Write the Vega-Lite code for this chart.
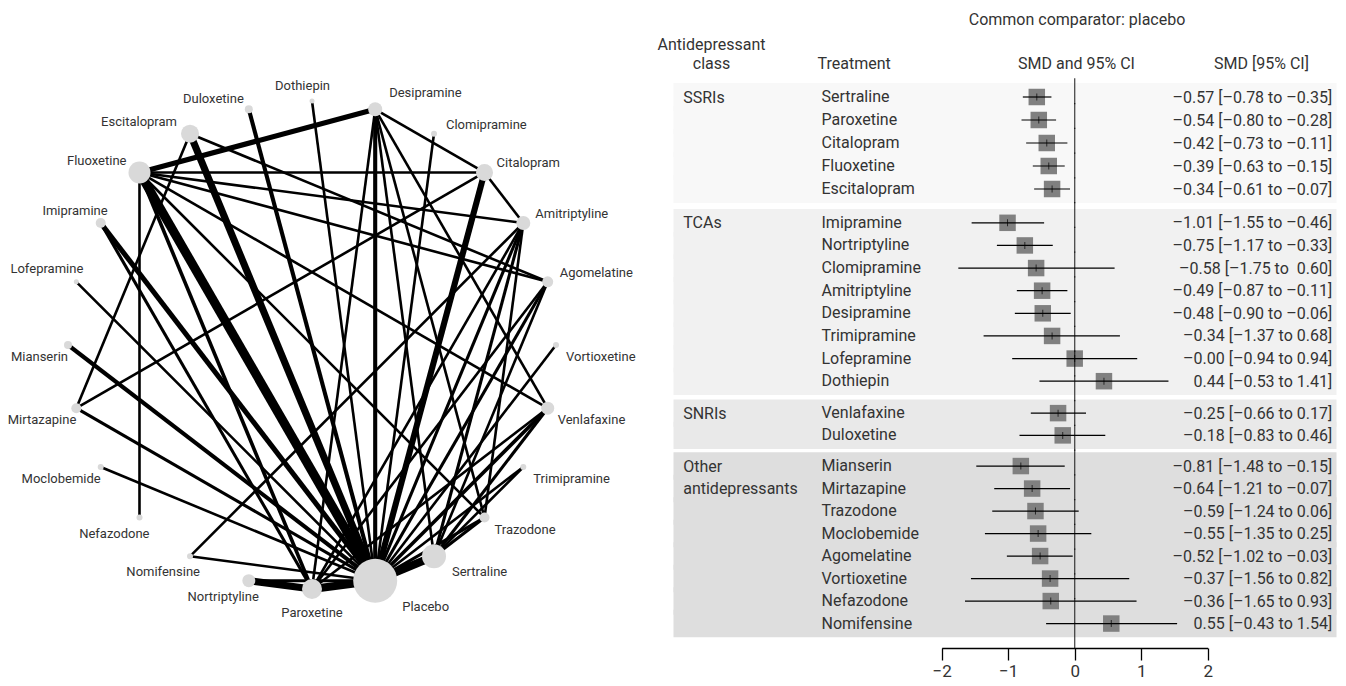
{
  "$schema": "https://vega.github.io/schema/vega-lite/v6.json",
  "padding": 0,
  "background": "white",
  "bounds": "flush",
  "spacing": 36,
  "config": {
    "font": "Roboto",
    "view": {"stroke": null},
    "axis": {"grid": false},
    "axisY": {"ticks": false, "domain": false, "grid": false, "labelFont": "Roboto", "labelFontSize": 16, "labelColor": "#333333", "labelBaseline": "middle", "labelOverlap": false, "labelBound": false, "labelLimit": 400, "titleFont": "Roboto", "titleFontSize": 16, "titleFontWeight": "normal", "titleColor": "#333333", "titleAngle": 0, "titleBaseline": "middle", "titlePadding": 0}
  },
  "datasets": {
    "nodes": [
      {"name": "Dothiepin", "x": 0, "y": 1, "n": 125},
      {"name": "Desipramine", "x": 0.259, "y": 0.966, "n": 980},
      {"name": "Clomipramine", "x": 0.5, "y": 0.866, "n": 180},
      {"name": "Citalopram", "x": 0.707, "y": 0.707, "n": 1445},
      {"name": "Amitriptyline", "x": 0.866, "y": 0.5, "n": 980},
      {"name": "Agomelatine", "x": 0.966, "y": 0.259, "n": 605},
      {"name": "Vortioxetine", "x": 1, "y": 0, "n": 180},
      {"name": "Venlafaxine", "x": 0.966, "y": -0.259, "n": 845},
      {"name": "Trimipramine", "x": 0.866, "y": -0.5, "n": 180},
      {"name": "Trazodone", "x": 0.707, "y": -0.707, "n": 500},
      {"name": "Sertraline", "x": 0.5, "y": -0.866, "n": 2880},
      {"name": "Placebo", "x": 0.259, "y": -0.966, "n": 9680},
      {"name": "Paroxetine", "x": 0, "y": -1, "n": 2000},
      {"name": "Nortriptyline", "x": -0.259, "y": -0.966, "n": 845},
      {"name": "Nomifensine", "x": -0.5, "y": -0.866, "n": 180},
      {"name": "Nefazodone", "x": -0.707, "y": -0.707, "n": 180},
      {"name": "Moclobemide", "x": -0.866, "y": -0.5, "n": 180},
      {"name": "Mirtazapine", "x": -0.966, "y": -0.259, "n": 500},
      {"name": "Mianserin", "x": -1, "y": 0, "n": 320},
      {"name": "Lofepramine", "x": -0.966, "y": 0.259, "n": 125},
      {"name": "Imipramine", "x": -0.866, "y": 0.5, "n": 500},
      {"name": "Fluoxetine", "x": -0.707, "y": 0.707, "n": 2420},
      {"name": "Escitalopram", "x": -0.5, "y": 0.866, "n": 1620},
      {"name": "Duloxetine", "x": -0.259, "y": 0.966, "n": 320}
    ],
    "edges": [
      {"a": "Placebo", "b": "Fluoxetine", "trials": 14},
      {"a": "Placebo", "b": "Escitalopram", "trials": 10},
      {"a": "Placebo", "b": "Citalopram", "trials": 8},
      {"a": "Placebo", "b": "Paroxetine", "trials": 12},
      {"a": "Placebo", "b": "Sertraline", "trials": 12},
      {"a": "Placebo", "b": "Duloxetine", "trials": 4},
      {"a": "Placebo", "b": "Desipramine", "trials": 4},
      {"a": "Placebo", "b": "Dothiepin", "trials": 1},
      {"a": "Placebo", "b": "Clomipramine", "trials": 1},
      {"a": "Placebo", "b": "Amitriptyline", "trials": 2},
      {"a": "Placebo", "b": "Agomelatine", "trials": 2},
      {"a": "Placebo", "b": "Vortioxetine", "trials": 1},
      {"a": "Placebo", "b": "Venlafaxine", "trials": 3},
      {"a": "Placebo", "b": "Trimipramine", "trials": 1},
      {"a": "Placebo", "b": "Trazodone", "trials": 2},
      {"a": "Placebo", "b": "Nortriptyline", "trials": 2},
      {"a": "Placebo", "b": "Mirtazapine", "trials": 2},
      {"a": "Placebo", "b": "Mianserin", "trials": 4},
      {"a": "Placebo", "b": "Imipramine", "trials": 6},
      {"a": "Placebo", "b": "Lofepramine", "trials": 1},
      {"a": "Placebo", "b": "Moclobemide", "trials": 1},
      {"a": "Placebo", "b": "Nomifensine", "trials": 1},
      {"a": "Paroxetine", "b": "Nortriptyline", "trials": 10},
      {"a": "Paroxetine", "b": "Imipramine", "trials": 2},
      {"a": "Paroxetine", "b": "Fluoxetine", "trials": 3},
      {"a": "Paroxetine", "b": "Desipramine", "trials": 1},
      {"a": "Paroxetine", "b": "Amitriptyline", "trials": 1},
      {"a": "Paroxetine", "b": "Agomelatine", "trials": 1},
      {"a": "Paroxetine", "b": "Venlafaxine", "trials": 1},
      {"a": "Fluoxetine", "b": "Desipramine", "trials": 6},
      {"a": "Fluoxetine", "b": "Citalopram", "trials": 1},
      {"a": "Fluoxetine", "b": "Amitriptyline", "trials": 1},
      {"a": "Fluoxetine", "b": "Agomelatine", "trials": 1},
      {"a": "Fluoxetine", "b": "Venlafaxine", "trials": 1},
      {"a": "Fluoxetine", "b": "Trazodone", "trials": 1},
      {"a": "Fluoxetine", "b": "Nefazodone", "trials": 1},
      {"a": "Escitalopram", "b": "Agomelatine", "trials": 1},
      {"a": "Escitalopram", "b": "Mirtazapine", "trials": 1},
      {"a": "Desipramine", "b": "Citalopram", "trials": 1},
      {"a": "Desipramine", "b": "Sertraline", "trials": 1},
      {"a": "Desipramine", "b": "Trazodone", "trials": 1},
      {"a": "Desipramine", "b": "Venlafaxine", "trials": 1},
      {"a": "Citalopram", "b": "Amitriptyline", "trials": 1},
      {"a": "Citalopram", "b": "Mirtazapine", "trials": 1},
      {"a": "Amitriptyline", "b": "Sertraline", "trials": 2},
      {"a": "Amitriptyline", "b": "Trazodone", "trials": 1},
      {"a": "Amitriptyline", "b": "Nomifensine", "trials": 1},
      {"a": "Agomelatine", "b": "Sertraline", "trials": 1},
      {"a": "Sertraline", "b": "Trazodone", "trials": 2},
      {"a": "Sertraline", "b": "Venlafaxine", "trials": 2},
      {"a": "Sertraline", "b": "Trimipramine", "trials": 1}
    ],
    "forest": [
      {"class": "SSRIs", "treatment": "Sertraline", "smd": -0.57, "lo": -0.78, "hi": -0.35, "ci": "–0.57 [–0.78 to –0.35]"},
      {"class": "SSRIs", "treatment": "Paroxetine", "smd": -0.54, "lo": -0.80, "hi": -0.28, "ci": "–0.54 [–0.80 to –0.28]"},
      {"class": "SSRIs", "treatment": "Citalopram", "smd": -0.42, "lo": -0.73, "hi": -0.11, "ci": "–0.42 [–0.73 to –0.11]"},
      {"class": "SSRIs", "treatment": "Fluoxetine", "smd": -0.39, "lo": -0.63, "hi": -0.15, "ci": "–0.39 [–0.63 to –0.15]"},
      {"class": "SSRIs", "treatment": "Escitalopram", "smd": -0.34, "lo": -0.61, "hi": -0.07, "ci": "–0.34 [–0.61 to –0.07]"},
      {"class": "TCAs", "treatment": "Imipramine", "smd": -1.01, "lo": -1.55, "hi": -0.46, "ci": "–1.01 [–1.55 to –0.46]"},
      {"class": "TCAs", "treatment": "Nortriptyline", "smd": -0.75, "lo": -1.17, "hi": -0.33, "ci": "–0.75 [–1.17 to –0.33]"},
      {"class": "TCAs", "treatment": "Clomipramine", "smd": -0.58, "lo": -1.75, "hi": 0.60, "ci": "–0.58 [–1.75 to \u00a00.60]"},
      {"class": "TCAs", "treatment": "Amitriptyline", "smd": -0.49, "lo": -0.87, "hi": -0.11, "ci": "–0.49 [–0.87 to –0.11]"},
      {"class": "TCAs", "treatment": "Desipramine", "smd": -0.48, "lo": -0.90, "hi": -0.06, "ci": "–0.48 [–0.90 to –0.06]"},
      {"class": "TCAs", "treatment": "Trimipramine", "smd": -0.34, "lo": -1.37, "hi": 0.68, "ci": "–0.34 [–1.37 to 0.68]"},
      {"class": "TCAs", "treatment": "Lofepramine", "smd": 0.0, "lo": -0.94, "hi": 0.94, "ci": "–0.00 [–0.94 to 0.94]"},
      {"class": "TCAs", "treatment": "Dothiepin", "smd": 0.44, "lo": -0.53, "hi": 1.41, "ci": "0.44 [–0.53 to 1.41]"},
      {"class": "SNRIs", "treatment": "Venlafaxine", "smd": -0.25, "lo": -0.66, "hi": 0.17, "ci": "–0.25 [–0.66 to 0.17]"},
      {"class": "SNRIs", "treatment": "Duloxetine", "smd": -0.18, "lo": -0.83, "hi": 0.46, "ci": "–0.18 [–0.83 to 0.46]"},
      {"class": "Other antidepressants", "treatment": "Mianserin", "smd": -0.81, "lo": -1.48, "hi": -0.15, "ci": "–0.81 [–1.48 to –0.15]"},
      {"class": "Other antidepressants", "treatment": "Mirtazapine", "smd": -0.64, "lo": -1.21, "hi": -0.07, "ci": "–0.64 [–1.21 to –0.07]"},
      {"class": "Other antidepressants", "treatment": "Trazodone", "smd": -0.59, "lo": -1.24, "hi": 0.06, "ci": "–0.59 [–1.24 to 0.06]"},
      {"class": "Other antidepressants", "treatment": "Moclobemide", "smd": -0.55, "lo": -1.35, "hi": 0.25, "ci": "–0.55 [–1.35 to 0.25]"},
      {"class": "Other antidepressants", "treatment": "Agomelatine", "smd": -0.52, "lo": -1.02, "hi": -0.03, "ci": "–0.52 [–1.02 to –0.03]"},
      {"class": "Other antidepressants", "treatment": "Vortioxetine", "smd": -0.37, "lo": -1.56, "hi": 0.82, "ci": "–0.37 [–1.56 to 0.82]"},
      {"class": "Other antidepressants", "treatment": "Nefazodone", "smd": -0.36, "lo": -1.65, "hi": 0.93, "ci": "–0.36 [–1.65 to 0.93]"},
      {"class": "Other antidepressants", "treatment": "Nomifensine", "smd": 0.55, "lo": -0.43, "hi": 1.54, "ci": "0.55 [–0.43 to 1.54]"}
    ]
  },
  "hconcat": [
    {
      "width": 640,
      "height": 686,
      "layer": [
        {
          "data": {"name": "edges"},
          "transform": [
            {"lookup": "a", "from": {"data": {"name": "nodes"}, "key": "name", "fields": ["x", "y"]}, "as": ["xa", "ya"]},
            {"lookup": "b", "from": {"data": {"name": "nodes"}, "key": "name", "fields": ["x", "y"]}, "as": ["xb", "yb"]}
          ],
          "mark": {"type": "rule", "color": "black", "strokeCap": "butt"},
          "encoding": {
            "x": {"field": "xa", "type": "quantitative", "scale": {"domain": [-1, 1], "range": [68, 556], "nice": false, "zero": false}, "axis": null},
            "y": {"field": "ya", "type": "quantitative", "scale": {"domain": [-1, 1], "range": [589, 101], "nice": false, "zero": false}, "axis": null},
            "x2": {"field": "xb"},
            "y2": {"field": "yb"},
            "strokeWidth": {"field": "trials", "type": "quantitative", "scale": {"domain": [1, 15], "range": [2.6, 9.6]}, "legend": null}
          }
        },
        {
          "data": {"name": "nodes"},
          "mark": {"type": "point", "shape": "circle", "filled": true, "color": "#d9d9d9", "opacity": 1},
          "encoding": {
            "x": {"field": "x", "type": "quantitative", "scale": {"domain": [-1, 1], "range": [68, 556], "nice": false, "zero": false}, "axis": null},
            "y": {"field": "y", "type": "quantitative", "scale": {"domain": [-1, 1], "range": [589, 101], "nice": false, "zero": false}, "axis": null},
            "size": {"field": "n", "type": "quantitative", "scale": {"type": "linear", "domain": [0, 10000], "range": [0, 2000]}, "legend": null}
          }
        },
        {
          "data": {"name": "nodes"},
          "transform": [{"filter": "datum.x > 0.1 && datum.y > 0.9"}],
          "mark": {"type": "text", "align": "left", "baseline": "middle", "dx": 14, "dy": -16, "fontSize": 13, "color": "#333333"},
          "encoding": {"x": {"field": "x", "type": "quantitative"}, "y": {"field": "y", "type": "quantitative"}, "text": {"field": "name"}}
        },
        {
          "data": {"name": "nodes"},
          "transform": [{"filter": "datum.x > 0.1 && datum.y > 0.1 && datum.y <= 0.9"}],
          "mark": {"type": "text", "align": "left", "baseline": "middle", "dx": 12, "dy": -9, "fontSize": 13, "color": "#333333"},
          "encoding": {"x": {"field": "x", "type": "quantitative"}, "y": {"field": "y", "type": "quantitative"}, "text": {"field": "name"}}
        },
        {
          "data": {"name": "nodes"},
          "transform": [{"filter": "datum.x > 0.1 && datum.y <= 0.1 && datum.n < 2000"}],
          "mark": {"type": "text", "align": "left", "baseline": "middle", "dx": 10, "dy": 12, "fontSize": 13, "color": "#333333"},
          "encoding": {"x": {"field": "x", "type": "quantitative"}, "y": {"field": "y", "type": "quantitative"}, "text": {"field": "name"}}
        },
        {
          "data": {"name": "nodes"},
          "transform": [{"filter": "datum.x > 0.1 && datum.n >= 2000 && datum.n < 5000"}],
          "mark": {"type": "text", "align": "left", "baseline": "middle", "dx": 18, "dy": 16, "fontSize": 13, "color": "#333333"},
          "encoding": {"x": {"field": "x", "type": "quantitative"}, "y": {"field": "y", "type": "quantitative"}, "text": {"field": "name"}}
        },
        {
          "data": {"name": "nodes"},
          "transform": [{"filter": "datum.n >= 5000"}],
          "mark": {"type": "text", "align": "left", "baseline": "middle", "dx": 27, "dy": 26, "fontSize": 13, "color": "#333333"},
          "encoding": {"x": {"field": "x", "type": "quantitative"}, "y": {"field": "y", "type": "quantitative"}, "text": {"field": "name"}}
        },
        {
          "data": {"name": "nodes"},
          "transform": [{"filter": "abs(datum.x) < 0.1 && datum.y > 0"}],
          "mark": {"type": "text", "align": "center", "baseline": "middle", "dx": -9.5, "dy": -15, "fontSize": 13, "color": "#333333"},
          "encoding": {"x": {"field": "x", "type": "quantitative"}, "y": {"field": "y", "type": "quantitative"}, "text": {"field": "name"}}
        },
        {
          "data": {"name": "nodes"},
          "transform": [{"filter": "abs(datum.x) < 0.1 && datum.y < 0"}],
          "mark": {"type": "text", "align": "center", "baseline": "middle", "dx": 0, "dy": 24, "fontSize": 13, "color": "#333333"},
          "encoding": {"x": {"field": "x", "type": "quantitative"}, "y": {"field": "y", "type": "quantitative"}, "text": {"field": "name"}}
        },
        {
          "data": {"name": "nodes"},
          "transform": [{"filter": "datum.x < -0.1 && datum.y > 0.9"}],
          "mark": {"type": "text", "align": "right", "baseline": "middle", "dx": -5, "dy": -10.5, "fontSize": 13, "color": "#333333"},
          "encoding": {"x": {"field": "x", "type": "quantitative"}, "y": {"field": "y", "type": "quantitative"}, "text": {"field": "name"}}
        },
        {
          "data": {"name": "nodes"},
          "transform": [{"filter": "datum.x < -0.1 && datum.y > 0.1 && datum.y <= 0.9 && datum.n > 1000"}],
          "mark": {"type": "text", "align": "right", "baseline": "middle", "dx": -13, "dy": -11.5, "fontSize": 13, "color": "#333333"},
          "encoding": {"x": {"field": "x", "type": "quantitative"}, "y": {"field": "y", "type": "quantitative"}, "text": {"field": "name"}}
        },
        {
          "data": {"name": "nodes"},
          "transform": [{"filter": "datum.x < -0.1 && datum.y > 0.1 && datum.y <= 0.9 && datum.n <= 1000"}],
          "mark": {"type": "text", "align": "right", "baseline": "middle", "dx": 7, "dy": -12.5, "fontSize": 13, "color": "#333333"},
          "encoding": {"x": {"field": "x", "type": "quantitative"}, "y": {"field": "y", "type": "quantitative"}, "text": {"field": "name"}}
        },
        {
          "data": {"name": "nodes"},
          "transform": [{"filter": "datum.x < -0.1 && datum.y <= 0.1 && datum.y > -0.6"}],
          "mark": {"type": "text", "align": "right", "baseline": "middle", "dx": 0, "dy": 12, "fontSize": 13, "color": "#333333"},
          "encoding": {"x": {"field": "x", "type": "quantitative"}, "y": {"field": "y", "type": "quantitative"}, "text": {"field": "name"}}
        },
        {
          "data": {"name": "nodes"},
          "transform": [{"filter": "datum.x < -0.1 && datum.y <= -0.6"}],
          "mark": {"type": "text", "align": "right", "baseline": "middle", "dx": 10, "dy": 16, "fontSize": 13, "color": "#333333"},
          "encoding": {"x": {"field": "x", "type": "quantitative"}, "y": {"field": "y", "type": "quantitative"}, "text": {"field": "name"}}
        }
      ]
    },
    {
      "width": 658,
      "height": 648,
      "data": {"name": "forest"},
      "layer": [
        {
          "transform": [{"filter": {"field": "class", "equal": "SSRIs"}}],
          "layer": [
            {
              "mark": {"type": "rect", "strokeWidth": 5},
              "encoding": {
                "y": {"field": "treatment", "type": "nominal", "sort": null, "scale": {"range": [85.5, 200.5], "paddingInner": 0, "paddingOuter": 0}, "axis": null},
                "fill": {"field": "class", "type": "nominal", "scale": {"domain": ["SSRIs", "TCAs", "SNRIs", "Other antidepressants"], "range": ["#f8f8f8", "#f1f1f1", "#e9e9e9", "#dedede"]}, "legend": null},
                "stroke": {"field": "class", "type": "nominal", "scale": {"domain": ["SSRIs", "TCAs", "SNRIs", "Other antidepressants"], "range": ["#f8f8f8", "#f1f1f1", "#e9e9e9", "#dedede"]}, "legend": null}
              }
            },
            {
              "mark": {"type": "point", "shape": "square", "filled": true, "color": "#808080", "opacity": 1, "size": 272},
              "encoding": {
                "x": {"field": "smd", "type": "quantitative", "scale": {"domain": [-2, 2], "range": [265.7, 531.7], "nice": false, "zero": false}, "axis": {"orient": "bottom", "values": [-2, -1, 0, 1, 2], "domain": true, "domainColor": "black", "domainWidth": 1.3, "ticks": true, "tickColor": "black", "tickWidth": 1.3, "tickSize": 12, "labelFont": "Roboto", "labelFontSize": 17, "labelColor": "#333333", "labelPadding": 3, "labelFlush": false, "grid": false, "zindex": 1, "title": "SMD and 95% CI", "titleX": 400, "titleY": -584.5, "titleAlign": "center", "titleBaseline": "middle", "titleAngle": 0, "titleFont": "Roboto", "titleFontSize": 16, "titleFontWeight": "normal", "titleColor": "#333333"}},
                "y": {"field": "ci", "type": "nominal", "sort": null, "scale": {"range": [85.5, 200.5], "paddingInner": 0, "paddingOuter": 0}, "axis": {"orient": "right", "zindex": 1, "labelAlign": "right", "labelPadding": -2.3, "title": "SMD [95% CI]", "titleX": -73, "titleY": 63.5, "titleAlign": "center"}}
              }
            },
            {
              "mark": {"type": "rule", "color": "black", "strokeWidth": 1.2},
              "encoding": {
                "x": {"field": "lo", "type": "quantitative", "scale": {"domain": [-2, 2], "range": [265.7, 531.7], "nice": false, "zero": false}, "axis": {"orient": "bottom", "values": [-2, -1, 0, 1, 2], "domain": true, "domainColor": "black", "domainWidth": 1.3, "ticks": true, "tickColor": "black", "tickWidth": 1.3, "tickSize": 12, "labelFont": "Roboto", "labelFontSize": 17, "labelColor": "#333333", "labelPadding": 3, "labelFlush": false, "grid": false, "zindex": 1, "title": "SMD and 95% CI", "titleX": 400, "titleY": -584.5, "titleAlign": "center", "titleBaseline": "middle", "titleAngle": 0, "titleFont": "Roboto", "titleFontSize": 16, "titleFontWeight": "normal", "titleColor": "#333333"}},
                "x2": {"field": "hi"},
                "y": {"field": "treatment", "type": "nominal", "sort": null, "scale": {"range": [85.5, 200.5], "paddingInner": 0, "paddingOuter": 0}, "axis": null}
              }
            },
            {
              "mark": {"type": "tick", "color": "black", "thickness": 1, "size": 7},
              "encoding": {
                "x": {"field": "smd", "type": "quantitative", "scale": {"domain": [-2, 2], "range": [265.7, 531.7], "nice": false, "zero": false}, "axis": {"orient": "bottom", "values": [-2, -1, 0, 1, 2], "domain": true, "domainColor": "black", "domainWidth": 1.3, "ticks": true, "tickColor": "black", "tickWidth": 1.3, "tickSize": 12, "labelFont": "Roboto", "labelFontSize": 17, "labelColor": "#333333", "labelPadding": 3, "labelFlush": false, "grid": false, "zindex": 1, "title": "SMD and 95% CI", "titleX": 400, "titleY": -584.5, "titleAlign": "center", "titleBaseline": "middle", "titleAngle": 0, "titleFont": "Roboto", "titleFontSize": 16, "titleFontWeight": "normal", "titleColor": "#333333"}},
                "y": {"field": "treatment", "type": "nominal", "sort": null, "scale": {"range": [85.5, 200.5], "paddingInner": 0, "paddingOuter": 0}, "axis": {"orient": "left", "zindex": 1, "labelAlign": "left", "labelPadding": -145, "title": "SSRIs", "titleX": 6.7, "titleY": 97, "titleAlign": "left"}}
              }
            }
          ],
          "resolve": {"scale": {"y": "independent"}, "axis": {"y": "independent"}}
        },
        {
          "transform": [{"filter": {"field": "class", "equal": "TCAs"}}],
          "layer": [
            {
              "mark": {"type": "rect", "strokeWidth": 5},
              "encoding": {
                "y": {"field": "treatment", "type": "nominal", "sort": null, "scale": {"range": [211.5, 392.5], "paddingInner": 0, "paddingOuter": 0}, "axis": null},
                "fill": {"field": "class", "type": "nominal", "scale": {"domain": ["SSRIs", "TCAs", "SNRIs", "Other antidepressants"], "range": ["#f8f8f8", "#f1f1f1", "#e9e9e9", "#dedede"]}, "legend": null},
                "stroke": {"field": "class", "type": "nominal", "scale": {"domain": ["SSRIs", "TCAs", "SNRIs", "Other antidepressants"], "range": ["#f8f8f8", "#f1f1f1", "#e9e9e9", "#dedede"]}, "legend": null}
              }
            },
            {
              "mark": {"type": "point", "shape": "square", "filled": true, "color": "#808080", "opacity": 1, "size": 272},
              "encoding": {
                "x": {"field": "smd", "type": "quantitative", "scale": {"domain": [-2, 2], "range": [265.7, 531.7], "nice": false, "zero": false}, "axis": {"orient": "bottom", "values": [-2, -1, 0, 1, 2], "domain": true, "domainColor": "black", "domainWidth": 1.3, "ticks": true, "tickColor": "black", "tickWidth": 1.3, "tickSize": 12, "labelFont": "Roboto", "labelFontSize": 17, "labelColor": "#333333", "labelPadding": 3, "labelFlush": false, "grid": false, "zindex": 1, "title": "SMD and 95% CI", "titleX": 400, "titleY": -584.5, "titleAlign": "center", "titleBaseline": "middle", "titleAngle": 0, "titleFont": "Roboto", "titleFontSize": 16, "titleFontWeight": "normal", "titleColor": "#333333"}},
                "y": {"field": "ci", "type": "nominal", "sort": null, "scale": {"range": [211.5, 392.5], "paddingInner": 0, "paddingOuter": 0}, "axis": {"orient": "right", "zindex": 1, "labelAlign": "right", "labelPadding": -2.3, "title": "Treatment", "titleX": -517, "titleY": 63.5, "titleAlign": "left"}}
              }
            },
            {
              "mark": {"type": "rule", "color": "black", "strokeWidth": 1.2},
              "encoding": {
                "x": {"field": "lo", "type": "quantitative", "scale": {"domain": [-2, 2], "range": [265.7, 531.7], "nice": false, "zero": false}, "axis": {"orient": "bottom", "values": [-2, -1, 0, 1, 2], "domain": true, "domainColor": "black", "domainWidth": 1.3, "ticks": true, "tickColor": "black", "tickWidth": 1.3, "tickSize": 12, "labelFont": "Roboto", "labelFontSize": 17, "labelColor": "#333333", "labelPadding": 3, "labelFlush": false, "grid": false, "zindex": 1, "title": "SMD and 95% CI", "titleX": 400, "titleY": -584.5, "titleAlign": "center", "titleBaseline": "middle", "titleAngle": 0, "titleFont": "Roboto", "titleFontSize": 16, "titleFontWeight": "normal", "titleColor": "#333333"}},
                "x2": {"field": "hi"},
                "y": {"field": "treatment", "type": "nominal", "sort": null, "scale": {"range": [211.5, 392.5], "paddingInner": 0, "paddingOuter": 0}, "axis": null}
              }
            },
            {
              "mark": {"type": "tick", "color": "black", "thickness": 1, "size": 7},
              "encoding": {
                "x": {"field": "smd", "type": "quantitative", "scale": {"domain": [-2, 2], "range": [265.7, 531.7], "nice": false, "zero": false}, "axis": {"orient": "bottom", "values": [-2, -1, 0, 1, 2], "domain": true, "domainColor": "black", "domainWidth": 1.3, "ticks": true, "tickColor": "black", "tickWidth": 1.3, "tickSize": 12, "labelFont": "Roboto", "labelFontSize": 17, "labelColor": "#333333", "labelPadding": 3, "labelFlush": false, "grid": false, "zindex": 1, "title": "SMD and 95% CI", "titleX": 400, "titleY": -584.5, "titleAlign": "center", "titleBaseline": "middle", "titleAngle": 0, "titleFont": "Roboto", "titleFontSize": 16, "titleFontWeight": "normal", "titleColor": "#333333"}},
                "y": {"field": "treatment", "type": "nominal", "sort": null, "scale": {"range": [211.5, 392.5], "paddingInner": 0, "paddingOuter": 0}, "axis": {"orient": "left", "zindex": 1, "labelAlign": "left", "labelPadding": -145, "title": "TCAs", "titleX": 6.7, "titleY": 222.8, "titleAlign": "left"}}
              }
            }
          ],
          "resolve": {"scale": {"y": "independent"}, "axis": {"y": "independent"}}
        },
        {
          "transform": [{"filter": {"field": "class", "equal": "SNRIs"}}],
          "layer": [
            {
              "mark": {"type": "rect", "strokeWidth": 5},
              "encoding": {
                "y": {"field": "treatment", "type": "nominal", "sort": null, "scale": {"range": [402, 446.5], "paddingInner": 0, "paddingOuter": 0}, "axis": null},
                "fill": {"field": "class", "type": "nominal", "scale": {"domain": ["SSRIs", "TCAs", "SNRIs", "Other antidepressants"], "range": ["#f8f8f8", "#f1f1f1", "#e9e9e9", "#dedede"]}, "legend": null},
                "stroke": {"field": "class", "type": "nominal", "scale": {"domain": ["SSRIs", "TCAs", "SNRIs", "Other antidepressants"], "range": ["#f8f8f8", "#f1f1f1", "#e9e9e9", "#dedede"]}, "legend": null}
              }
            },
            {
              "mark": {"type": "point", "shape": "square", "filled": true, "color": "#808080", "opacity": 1, "size": 272},
              "encoding": {
                "x": {"field": "smd", "type": "quantitative", "scale": {"domain": [-2, 2], "range": [265.7, 531.7], "nice": false, "zero": false}, "axis": {"orient": "bottom", "values": [-2, -1, 0, 1, 2], "domain": true, "domainColor": "black", "domainWidth": 1.3, "ticks": true, "tickColor": "black", "tickWidth": 1.3, "tickSize": 12, "labelFont": "Roboto", "labelFontSize": 17, "labelColor": "#333333", "labelPadding": 3, "labelFlush": false, "grid": false, "zindex": 1, "title": "SMD and 95% CI", "titleX": 400, "titleY": -584.5, "titleAlign": "center", "titleBaseline": "middle", "titleAngle": 0, "titleFont": "Roboto", "titleFontSize": 16, "titleFontWeight": "normal", "titleColor": "#333333"}},
                "y": {"field": "ci", "type": "nominal", "sort": null, "scale": {"range": [402, 446.5], "paddingInner": 0, "paddingOuter": 0}, "axis": {"orient": "right", "zindex": 1, "labelAlign": "right", "labelPadding": -2.3, "title": "Common comparator: placebo", "titleX": -257.5, "titleY": 19, "titleAlign": "center"}}
              }
            },
            {
              "mark": {"type": "rule", "color": "black", "strokeWidth": 1.2},
              "encoding": {
                "x": {"field": "lo", "type": "quantitative", "scale": {"domain": [-2, 2], "range": [265.7, 531.7], "nice": false, "zero": false}, "axis": {"orient": "bottom", "values": [-2, -1, 0, 1, 2], "domain": true, "domainColor": "black", "domainWidth": 1.3, "ticks": true, "tickColor": "black", "tickWidth": 1.3, "tickSize": 12, "labelFont": "Roboto", "labelFontSize": 17, "labelColor": "#333333", "labelPadding": 3, "labelFlush": false, "grid": false, "zindex": 1, "title": "SMD and 95% CI", "titleX": 400, "titleY": -584.5, "titleAlign": "center", "titleBaseline": "middle", "titleAngle": 0, "titleFont": "Roboto", "titleFontSize": 16, "titleFontWeight": "normal", "titleColor": "#333333"}},
                "x2": {"field": "hi"},
                "y": {"field": "treatment", "type": "nominal", "sort": null, "scale": {"range": [402, 446.5], "paddingInner": 0, "paddingOuter": 0}, "axis": null}
              }
            },
            {
              "mark": {"type": "tick", "color": "black", "thickness": 1, "size": 7},
              "encoding": {
                "x": {"field": "smd", "type": "quantitative", "scale": {"domain": [-2, 2], "range": [265.7, 531.7], "nice": false, "zero": false}, "axis": {"orient": "bottom", "values": [-2, -1, 0, 1, 2], "domain": true, "domainColor": "black", "domainWidth": 1.3, "ticks": true, "tickColor": "black", "tickWidth": 1.3, "tickSize": 12, "labelFont": "Roboto", "labelFontSize": 17, "labelColor": "#333333", "labelPadding": 3, "labelFlush": false, "grid": false, "zindex": 1, "title": "SMD and 95% CI", "titleX": 400, "titleY": -584.5, "titleAlign": "center", "titleBaseline": "middle", "titleAngle": 0, "titleFont": "Roboto", "titleFontSize": 16, "titleFontWeight": "normal", "titleColor": "#333333"}},
                "y": {"field": "treatment", "type": "nominal", "sort": null, "scale": {"range": [402, 446.5], "paddingInner": 0, "paddingOuter": 0}, "axis": {"orient": "left", "zindex": 1, "labelAlign": "left", "labelPadding": -145, "title": "SNRIs", "titleX": 6.7, "titleY": 413.1, "titleAlign": "left"}}
              }
            }
          ],
          "resolve": {"scale": {"y": "independent"}, "axis": {"y": "independent"}}
        },
        {
          "transform": [{"filter": {"field": "class", "equal": "Other antidepressants"}}],
          "layer": [
            {
              "mark": {"type": "rect", "strokeWidth": 5},
              "encoding": {
                "y": {"field": "treatment", "type": "nominal", "sort": null, "scale": {"range": [454.8, 634.8], "paddingInner": 0, "paddingOuter": 0}, "axis": null},
                "fill": {"field": "class", "type": "nominal", "scale": {"domain": ["SSRIs", "TCAs", "SNRIs", "Other antidepressants"], "range": ["#f8f8f8", "#f1f1f1", "#e9e9e9", "#dedede"]}, "legend": null},
                "stroke": {"field": "class", "type": "nominal", "scale": {"domain": ["SSRIs", "TCAs", "SNRIs", "Other antidepressants"], "range": ["#f8f8f8", "#f1f1f1", "#e9e9e9", "#dedede"]}, "legend": null}
              }
            },
            {
              "mark": {"type": "point", "shape": "square", "filled": true, "color": "#808080", "opacity": 1, "size": 272},
              "encoding": {
                "x": {"field": "smd", "type": "quantitative", "scale": {"domain": [-2, 2], "range": [265.7, 531.7], "nice": false, "zero": false}, "axis": {"orient": "bottom", "values": [-2, -1, 0, 1, 2], "domain": true, "domainColor": "black", "domainWidth": 1.3, "ticks": true, "tickColor": "black", "tickWidth": 1.3, "tickSize": 12, "labelFont": "Roboto", "labelFontSize": 17, "labelColor": "#333333", "labelPadding": 3, "labelFlush": false, "grid": false, "zindex": 1, "title": "SMD and 95% CI", "titleX": 400, "titleY": -584.5, "titleAlign": "center", "titleBaseline": "middle", "titleAngle": 0, "titleFont": "Roboto", "titleFontSize": 16, "titleFontWeight": "normal", "titleColor": "#333333"}},
                "y": {"field": "ci", "type": "nominal", "sort": null, "scale": {"range": [454.8, 634.8], "paddingInner": 0, "paddingOuter": 0}, "axis": {"orient": "right", "zindex": 1, "labelAlign": "right", "labelPadding": -2.3, "title": null}}
              }
            },
            {
              "mark": {"type": "rule", "color": "black", "strokeWidth": 1.2},
              "encoding": {
                "x": {"field": "lo", "type": "quantitative", "scale": {"domain": [-2, 2], "range": [265.7, 531.7], "nice": false, "zero": false}, "axis": {"orient": "bottom", "values": [-2, -1, 0, 1, 2], "domain": true, "domainColor": "black", "domainWidth": 1.3, "ticks": true, "tickColor": "black", "tickWidth": 1.3, "tickSize": 12, "labelFont": "Roboto", "labelFontSize": 17, "labelColor": "#333333", "labelPadding": 3, "labelFlush": false, "grid": false, "zindex": 1, "title": "SMD and 95% CI", "titleX": 400, "titleY": -584.5, "titleAlign": "center", "titleBaseline": "middle", "titleAngle": 0, "titleFont": "Roboto", "titleFontSize": 16, "titleFontWeight": "normal", "titleColor": "#333333"}},
                "x2": {"field": "hi"},
                "y": {"field": "treatment", "type": "nominal", "sort": null, "scale": {"range": [454.8, 634.8], "paddingInner": 0, "paddingOuter": 0}, "axis": null}
              }
            },
            {
              "mark": {"type": "tick", "color": "black", "thickness": 1, "size": 7},
              "encoding": {
                "x": {"field": "smd", "type": "quantitative", "scale": {"domain": [-2, 2], "range": [265.7, 531.7], "nice": false, "zero": false}, "axis": {"orient": "bottom", "values": [-2, -1, 0, 1, 2], "domain": true, "domainColor": "black", "domainWidth": 1.3, "ticks": true, "tickColor": "black", "tickWidth": 1.3, "tickSize": 12, "labelFont": "Roboto", "labelFontSize": 17, "labelColor": "#333333", "labelPadding": 3, "labelFlush": false, "grid": false, "zindex": 1, "title": "SMD and 95% CI", "titleX": 400, "titleY": -584.5, "titleAlign": "center", "titleBaseline": "middle", "titleAngle": 0, "titleFont": "Roboto", "titleFontSize": 16, "titleFontWeight": "normal", "titleColor": "#333333"}},
                "y": {"field": "treatment", "type": "nominal", "sort": null, "scale": {"range": [454.8, 634.8], "paddingInner": 0, "paddingOuter": 0}, "axis": {"orient": "left", "zindex": 1, "labelAlign": "left", "labelPadding": -145, "title": ["Other", "antidepressants"], "titleX": 6.7, "titleY": 466, "titleAlign": "left", "titleLineHeight": 22.5}}
              }
            }
          ],
          "resolve": {"scale": {"y": "independent"}, "axis": {"y": "independent"}}
        },
        {
          "mark": {"type": "tick", "color": "black", "thickness": 1.3, "size": 26},
          "encoding": {
            "x": {"datum": 0, "type": "quantitative", "scale": {"domain": [-2, 2], "range": [265.7, 531.7], "nice": false, "zero": false},
                  "axis": {"orient": "bottom", "values": [-2, -1, 0, 1, 2], "domain": true, "domainColor": "black", "domainWidth": 1.3, "ticks": true, "tickColor": "black", "tickWidth": 1.3, "tickSize": 12, "labelFont": "Roboto", "labelFontSize": 17, "labelColor": "#333333", "labelPadding": 3, "labelFlush": false, "grid": false, "zindex": 1, "title": "SMD and 95% CI", "titleX": 400, "titleY": -584.5, "titleAlign": "center", "titleBaseline": "middle", "titleAngle": 0, "titleFont": "Roboto", "titleFontSize": 16, "titleFontWeight": "normal", "titleColor": "#333333"}},
            "y": {"field": "treatment", "type": "nominal", "sort": null, "scale": {"range": [79, 648], "paddingInner": 0, "paddingOuter": 0}, "axis": {"orient": "left", "zindex": 1, "labels": false, "title": ["Antidepressant", "class"], "titleX": 35, "titleY": 44.7, "titleAlign": "center", "titleLineHeight": 19}}
          }
        }
      ],
      "resolve": {"scale": {"y": "independent"}, "axis": {"y": "independent"}}
    }
  ]
}
